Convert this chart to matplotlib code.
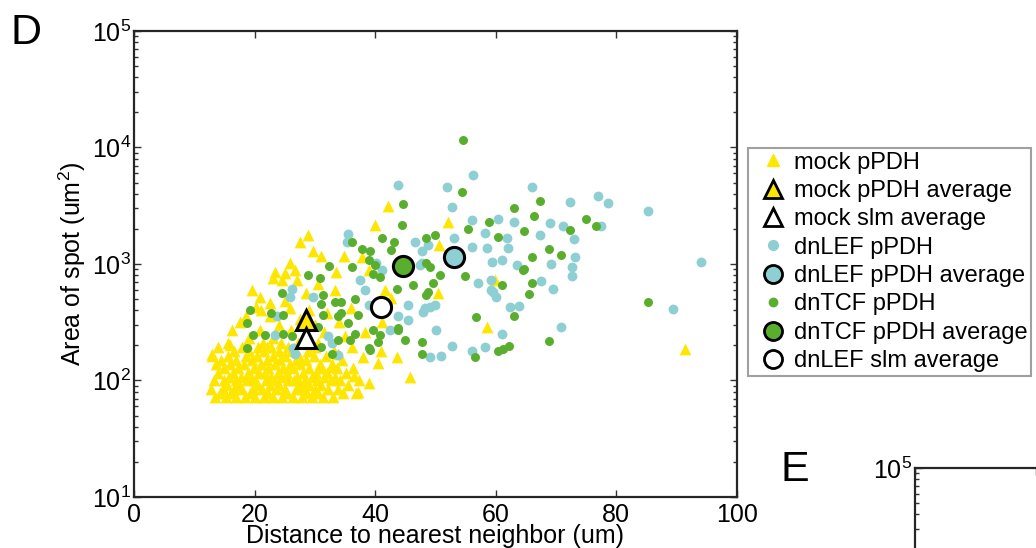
import numpy as np
import matplotlib.pyplot as plt
from matplotlib.lines import Line2D
from matplotlib.ticker import LogLocator, NullFormatter

plt.rcParams['font.family'] = ['Liberation Sans', 'DejaVu Sans']
plt.rcParams['mathtext.fontset'] = 'custom'
plt.rcParams['mathtext.rm'] = 'Liberation Sans'
plt.rcParams['mathtext.it'] = 'Liberation Sans:italic'
plt.rcParams['mathtext.bf'] = 'Liberation Sans:bold'

YELLOW = '#FFE600'
CYAN = '#8DCFD3'
GREEN = '#5AAE2E'

# ---- mock pPDH: dense cloud near the bottom, row by row (area, distances) ----
mock_rows_y = [72, 78, 85, 92, 100, 108, 117, 127, 138, 150, 163, 178, 193, 210]
mock_rows_x = [
    [13.5, 15.2, 17.0, 18.4, 20.1, 21.5, 23.0, 24.6, 26.3, 27.8, 29.5, 31.4, 33.0],
    [14.3, 16.1, 19.3, 22.2, 25.4, 28.7, 30.6, 34.6, 36.9],
    [12.8, 14.8, 16.6, 18.0, 19.8, 21.2, 23.6, 25.0, 26.9, 28.2, 30.0, 32.1, 33.8],
    [15.5, 17.5, 20.6, 22.6, 24.1, 27.4, 29.1, 31.0, 35.5],
    [13.2, 14.9, 16.9, 18.7, 20.0, 21.9, 23.3, 25.6, 26.6, 28.4, 30.4, 32.6, 34.1, 37.4],
    [15.8, 17.8, 19.4, 22.8, 24.4, 27.0, 29.6, 31.6, 33.3],
    [13.9, 16.4, 18.9, 20.7, 21.8, 23.9, 25.3, 28.0, 30.2, 32.0, 35.2],
    [15.0, 17.2, 19.9, 22.3, 24.8, 26.4, 29.0, 31.2, 33.7, 36.3],
    [13.6, 16.0, 18.2, 21.0, 23.4, 25.9, 27.6, 30.8, 32.8],
    [14.5, 17.0, 19.6, 22.0, 24.2, 26.8, 28.6, 34.5],
    [13.0, 15.6, 18.5, 20.4, 23.0, 25.1, 27.3, 29.8, 31.8],
    [16.6, 19.0, 21.6, 24.0, 26.1, 28.9, 33.2],
    [14.0, 17.9, 20.6, 22.8, 25.5, 30.0],
    [18.8, 21.4, 24.4, 27.2],
]

# ---- mock pPDH: remaining spots (distance, area) ----
mock_sparse = np.array([
    (42.2, 3160), (40.0, 2150), (28.9, 1780), (27.5, 1550), (29.7, 1300), (31.1, 1170),
    (34.8, 1170), (37.8, 1150), (25.9, 1020), (38.9, 890), (23.4, 860), (25.0, 830),
    (26.7, 890), (33.5, 850), (23.1, 755), (24.5, 730), (27.0, 730), (30.6, 675),
    (33.3, 600), (19.5, 600), (28.5, 560), (20.9, 525), (25.0, 480), (22.6, 460),
    (20.3, 430), (25.9, 420), (36.0, 420), (21.0, 400), (29.0, 400), (32.0, 380),
    (22.5, 360), (18.5, 360), (27.5, 340), (17.6, 320), (34.0, 320), (24.0, 300),
    (30.0, 300), (16.2, 270), (20.9, 270), (26.0, 270), (31.5, 260), (38.3, 262),
    (23.0, 230), (19.0, 230), (35.0, 240), (15.6, 210), (30.5, 210), (16.0, 200),
    (22.0, 195), (36.1, 195), (26.5, 190), (12.9, 170), (33.9, 170), (38.0, 160),
    (41.0, 180), (33.0, 130), (40.5, 141), (36.5, 110), (45.8, 107), (39.0, 95),
    (37.2, 80), (43.6, 160), (41.6, 600), (42.7, 515), (41.1, 317), (52.1, 2290),
    (50.6, 1450), (50.5, 565), (59.9, 730), (58.5, 285), (91.4, 186),
])

# ---- dnLEF pPDH (distance, area) ----
dnlef = np.array([
    (56.2, 5750), (51.9, 4560), (66.0, 4560), (72.3, 3400), (77.0, 3800), (78.7, 3350),
    (85.2, 2830), (52.8, 3070), (56.1, 2390), (60.3, 2450), (63.1, 2300), (69.0, 2230),
    (71.2, 2100), (77.5, 2130), (58.2, 1860), (53.0, 1670), (61.8, 1670), (67.3, 1780),
    (72.9, 1630), (56.1, 1410), (58.5, 1360), (62.1, 1360), (59.3, 1050), (61.0, 1080),
    (63.5, 980), (69.2, 1000), (73.1, 1150), (72.7, 950), (72.7, 790), (57.0, 690),
    (59.2, 730), (59.2, 600), (60.0, 520), (67.5, 710), (69.5, 615), (62.4, 425),
    (63.9, 437), (94.1, 1030), (89.4, 410), (70.8, 290), (61.0, 253), (50.1, 270),
    (52.8, 198), (58.2, 195), (56.1, 179), (51.0, 163), (49.1, 158), (48.0, 390),
    (49.1, 430), (47.7, 1290), (47.7, 1020), (43.8, 4780), (35.5, 1820), (35.3, 1550),
    (46.6, 1550), (48.8, 1450), (40.2, 1020), (41.1, 890), (37.5, 730), (38.3, 600),
    (26.2, 615), (25.9, 525), (29.7, 525), (45.5, 445), (48.3, 415), (49.9, 445),
    (43.8, 355), (45.5, 330), (23.7, 355), (23.4, 245), (26.4, 190), (26.7, 170),
    (32.2, 240), (32.8, 210), (33.9, 166), (38.9, 445), (47.4, 980), (59.6, 575),
    (42.5, 270),
])

# ---- dnTCF pPDH (distance, area) ----
dntcf = np.array([
    (54.5, 11700), (54.4, 4170), (63.1, 3020), (67.3, 3490), (66.4, 2560), (74.9, 2420),
    (76.6, 2100), (58.9, 2300), (55.4, 2000), (64.7, 1920), (72.3, 1950), (60.3, 1700),
    (68.8, 1340), (70.8, 1200), (66.0, 1150), (64.7, 905), (54.9, 795), (61.0, 665),
    (66.0, 690), (65.5, 550), (56.7, 353), (63.1, 357), (85.2, 470), (68.8, 218),
    (60.3, 178), (61.2, 188), (62.2, 198), (56.6, 160), (48.5, 1670), (49.9, 1780),
    (48.5, 1020), (50.7, 800), (49.6, 680), (48.5, 540), (47.7, 215), (47.7, 170),
    (44.7, 3250), (44.5, 2150), (41.1, 1670), (43.1, 1550), (36.1, 1550), (37.8, 1350),
    (39.1, 1280), (38.9, 1080), (40.0, 980), (42.7, 1320), (32.4, 960), (36.2, 935),
    (28.9, 800), (30.8, 755), (40.8, 780), (43.6, 615), (46.3, 660), (24.5, 560),
    (31.4, 540), (31.1, 450), (34.4, 475), (36.6, 505), (19.2, 405), (22.8, 380),
    (24.8, 365), (18.7, 310), (19.8, 245), (21.7, 245), (24.8, 253), (30.6, 290),
    (31.4, 365), (33.9, 355), (35.5, 310), (36.6, 250), (33.9, 224), (32.8, 170),
    (37.2, 363), (40.8, 245), (38.9, 190), (43.8, 280), (18.7, 190), (26.2, 240),
    (31.1, 195), (39.7, 815), (49.1, 950), (48.8, 575), (64.6, 890), (43.8, 270),
    (44.9, 223), (39.7, 270), (40.5, 215), (39.1, 183), (35.8, 224), (33.3, 475),
    (34.4, 380),
])

# ---- group averages (distance, area) ----
mock_pdh_avg = (28.5, 333)
mock_slm_avg = (28.5, 230)
dnlef_pdh_avg = (53.0, 1150)
dntcf_pdh_avg = (44.7, 970)
dnlef_slm_avg = (40.9, 430)

x_ticks = [0, 20, 40, 60, 80, 100]

mock_x = [x for row in mock_rows_x for x in row] + list(mock_sparse[:, 0])
mock_y = [y for y, row in zip(mock_rows_y, mock_rows_x) for _ in row] + list(mock_sparse[:, 1])

fig = plt.figure(figsize=(10.36, 5.48), dpi=100)
ax = fig.add_axes([0.1293, 0.0931, 0.5820, 0.8504])


def style_axes(a):
    a.set_yscale('log')
    a.set_ylim(10, 1e5)
    a.set_xlim(0, 100)
    a.set_xticks(x_ticks)
    a.yaxis.set_major_locator(LogLocator(base=10, numticks=10))
    a.yaxis.set_minor_locator(LogLocator(base=10, subs=np.arange(2, 10), numticks=50))
    a.yaxis.set_minor_formatter(NullFormatter())
    a.tick_params(which='both', direction='in', top=True, right=True,
                  labelsize=18, color='#333333', width=1.0)
    a.tick_params(axis='x', which='major', length=5, pad=4.5)
    a.tick_params(axis='y', which='major', length=5, pad=2)
    a.tick_params(which='minor', length=3)
    for s in a.spines.values():
        s.set_linewidth(1.6)
        s.set_color('#262626')


style_axes(ax)

ax.scatter(mock_x, mock_y, marker='^', s=72, c=YELLOW, linewidths=0, zorder=2)
ax.scatter(dnlef[:, 0], dnlef[:, 1], marker='o', s=50, c=CYAN, linewidths=0, zorder=3)
ax.scatter(dntcf[:, 0], dntcf[:, 1], marker='o', s=42, c=GREEN, linewidths=0, zorder=4)

ax.plot(*mock_pdh_avg, marker='^', ms=14, mfc=YELLOW, mec='k', mew=2.2, ls='none', zorder=6)
ax.plot(*mock_slm_avg, marker='^', ms=14, mfc='white', mec='k', mew=2.2, ls='none', zorder=6)
ax.plot(*dnlef_pdh_avg, marker='o', ms=14.5, mfc=CYAN, mec='k', mew=2.2, ls='none', zorder=6)
ax.plot(*dntcf_pdh_avg, marker='o', ms=14.5, mfc=GREEN, mec='k', mew=2.2, ls='none', zorder=6)
ax.plot(*dnlef_slm_avg, marker='o', ms=14.5, mfc='white', mec='k', mew=2.2, ls='none', zorder=6)

ax.set_xlabel('Distance to nearest neighbor (um)', fontsize=18, labelpad=-2)
ax.set_ylabel('Area of spot (um$^2$)', fontsize=18, labelpad=3)

# legend sits to the right of the axes
handles = [
    Line2D([], [], marker='^', ls='none', ms=9, mfc=YELLOW, mec=YELLOW),
    Line2D([], [], marker='^', ls='none', ms=13, mfc=YELLOW, mec='k', mew=2),
    Line2D([], [], marker='^', ls='none', ms=13, mfc='white', mec='k', mew=2),
    Line2D([], [], marker='o', ls='none', ms=7, mfc=CYAN, mec=CYAN),
    Line2D([], [], marker='o', ls='none', ms=13, mfc=CYAN, mec='k', mew=2),
    Line2D([], [], marker='o', ls='none', ms=6, mfc=GREEN, mec=GREEN),
    Line2D([], [], marker='o', ls='none', ms=13, mfc=GREEN, mec='k', mew=2),
    Line2D([], [], marker='o', ls='none', ms=13, mfc='white', mec='k', mew=2),
]
labels = ['mock pPDH', 'mock pPDH average', 'mock slm average', 'dnLEF pPDH',
          'dnLEF pPDH average', 'dnTCF pPDH', 'dnTCF pPDH average', 'dnLEF slm average']
leg = fig.legend(handles, labels, loc='upper left',
                 bbox_to_anchor=(748 / 1036, 1 - 148 / 548), bbox_transform=fig.transFigure,
                 fontsize=17, frameon=True, fancybox=False, edgecolor='#888888',
                 borderpad=0.15, labelspacing=0.27, handlelength=1.8, handletextpad=0.0,
                 borderaxespad=0)
leg.get_frame().set_linewidth(1.5)

# panel E (only its top-left corner is in view)
axE = fig.add_axes([915 / 1036, 0.146 - 0.8504, 0.5820, 0.8504])
style_axes(axE)

fig.text(11 / 1036, 1 - 44 / 548, 'D', fontsize=31, va='baseline')
fig.text(781 / 1036, 1 - 481 / 548, 'E', fontsize=31, va='baseline')

fig.savefig('out.png', dpi=100)
